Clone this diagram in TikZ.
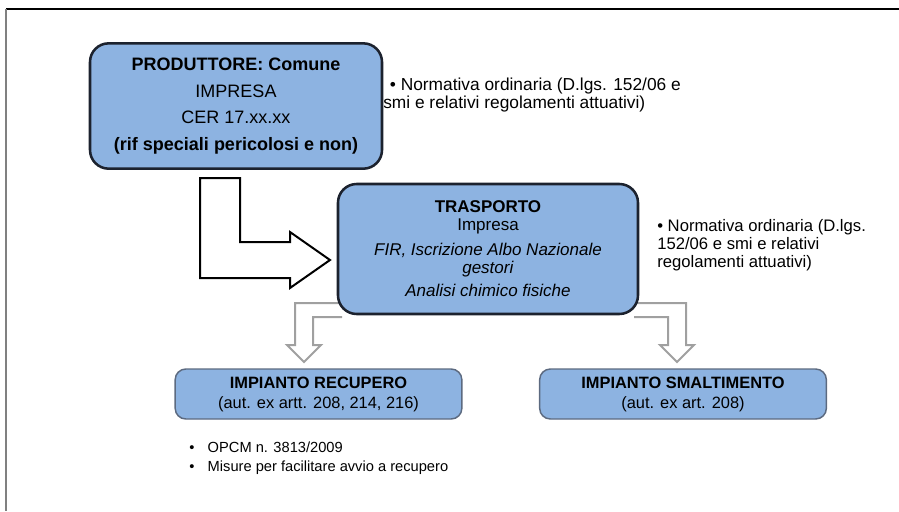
\documentclass[tikz,border=0pt]{standalone}
\usepackage{fontspec}
\setmainfont{Liberation Sans}
\usetikzlibrary{backgrounds}
\definecolor{boxblue}{RGB}{141,179,225}
\definecolor{boxline}{RGB}{28,34,46}
\definecolor{lowline}{RGB}{92,106,128}
\definecolor{arrgray}{RGB}{160,160,160}
\tikzset{
  mainbox/.style={draw=boxline,line width=1.9pt,fill=boxblue,rounded corners=14pt,align=center,inner sep=0pt},
  lowbox/.style={draw=lowline,line width=1.1pt,fill=boxblue,rounded corners=8pt,align=center,inner sep=0pt,
    minimum width=215pt,minimum height=37.5pt,font=\fontsize{12.3}{15}\selectfont},
  note/.style={align=left,inner sep=0pt,anchor=north west,font=\fontsize{12.5}{13.5}\selectfont},
  bigarrow/.style={draw=black,line width=1.5pt,fill=white,line join=miter},
  smallarrow/.style={draw=arrgray,line width=1.5pt,fill=white,line join=miter}
}

\begin{document}
\begin{tikzpicture}[x=0.75pt,y=-0.75pt]
  \useasboundingbox (0,0) rectangle (899,511);
  \draw[black,line width=0.8pt] (6,9) -- (899,9);
  \draw[gray,line width=1.5pt] (6,9) -- (6,511);

  \node[mainbox,minimum width=219pt,minimum height=94pt,font=\fontsize{13.5}{20}\selectfont] (prod) at (236,106)
    {\textbf{PRODUTTORE: Comune}\\IMPRESA\\CER 17.xx.xx\\\textbf{(rif speciali pericolosi e non)}};
  \node[mainbox,minimum width=225pt,minimum height=97.5pt,font=\fontsize{12.75}{13.5}\selectfont] (trasp) at (488,249)
    {\textbf{TRASPORTO}\\Impresa\\[5pt]\textit{FIR, Iscrizione Albo Nazionale}\\\textit{gestori}\\[4pt]\textit{Analisi chimico fisiche}};
  \node[lowbox] (recup) at (318.5,394) {\textbf{IMPIANTO RECUPERO}\\(aut. ex artt. 208, 214, 216)};
  \node[lowbox] (smalt) at (683,394) {\textbf{IMPIANTO SMALTIMENTO}\\(aut. ex art. 208)};

  \node[note,font=\fontsize{13}{13}\selectfont] (normprod) at (383,78)
    {\hspace*{5pt}\textbullet\ Normativa ordinaria (D.lgs. 152/06 e\\smi e relativi regolamenti attuativi)};
  \node[note] (normtrasp) at (657,219) {\textbullet\ Normativa ordinaria (D.lgs.\\152/06 e smi e relativi\\regolamenti attuativi)};
  \node[note,font=\fontsize{11}{14.25}\selectfont] (opcm) at (189,442)
    {\textbullet\hspace{10pt}OPCM n. 3813/2009\\\textbullet\hspace{10pt}Misure per facilitare avvio a recupero};

  \begin{scope}[on background layer]
    \draw[bigarrow] (200,178) -- (240,178) -- (240,242) -- (290,242) -- (290,232) -- (330,260)
      -- (290,288) -- (290,278) -- (200,278) -- cycle;
    \path[smallarrow] (342,303) -- (295,303) -- (295,345) -- (287,345) -- (304,362) -- (321,345)
      -- (313,345) -- (313,317) -- (342,317);
    \path[smallarrow] (634,303) -- (686,303) -- (686,345) -- (694,345) -- (677,362) -- (660,345)
      -- (668,345) -- (668,317) -- (634,317);
  \end{scope}
\end{tikzpicture}
\end{document}
